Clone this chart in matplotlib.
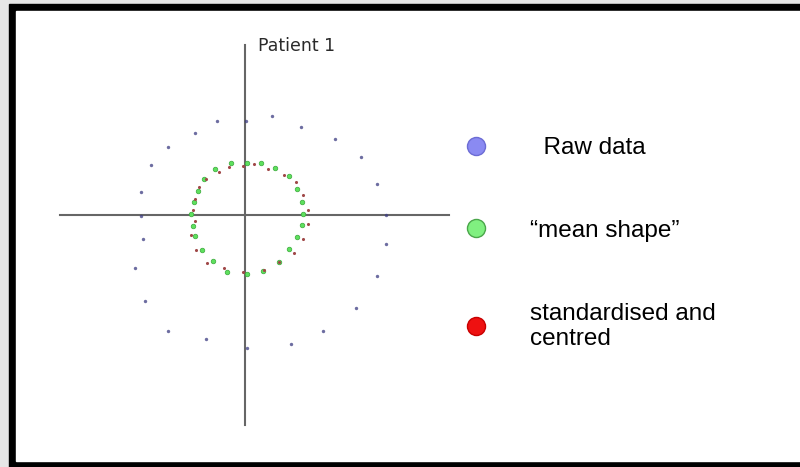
"""
Patient 1: raw landmark data, mean shape and standardised/centred shape.
Saves the figure as out.png.
"""

import matplotlib
matplotlib.use("Agg")
import matplotlib.pyplot as plt
from matplotlib.lines import Line2D
from matplotlib.patches import Rectangle

# --- data (arbitrary units, origin at the crossing of the axes) ---
raw_x = [0.1, 2.7, 5.6, 9.0, 11.6, 13.2, 14.1, 14.1, 13.2, 11.1, 7.8, 4.6,
         0.2, -3.9, -7.7, -10.0, -11.0, -10.2, -10.4, -10.4, -9.4, -7.7, -5.0, -2.8]
raw_y = [9.4, 9.9, 8.8, 7.6, 5.8, 3.1, 0.0, -2.9, -6.1, -9.3, -11.6, -12.9,
         -13.3, -12.4, -11.6, -8.6, -5.3, -2.4, -0.1, 2.3, 5.0, 6.8, 8.2, 9.4]

mean_x = [-1.4, 0.2, 1.6, 3.0, 4.4, 5.2, 5.7, 5.8, 5.7, 5.2, 4.4, 3.4,
          1.8, 0.2, -1.8, -3.2, -4.3, -5.0, -5.2, -5.4, -5.1, -4.7, -4.1, -3.0]
mean_y = [5.2, 5.2, 5.2, 4.7, 3.9, 2.6, 1.3, 0.1, -1.0, -2.2, -3.4, -4.7,
          -5.6, -5.9, -5.7, -4.6, -3.5, -2.1, -1.1, 0.1, 1.3, 2.4, 3.6, 4.6]

std_x = [-1.6, -0.2, 0.9, 2.3, 3.9, 5.1, 5.8, 6.3, 6.3, 5.8, 4.9, 3.4,
         1.9, -0.2, -2.1, -3.8, -4.9, -5.4, -5.0, -5.2, -5.0, -4.6, -3.9, -2.6]
std_y = [4.8, 4.9, 5.1, 4.6, 4.0, 3.3, 2.0, 0.5, -0.9, -2.4, -3.8, -4.7,
         -5.5, -5.7, -5.3, -4.8, -3.5, -2.0, -0.6, 0.5, 1.6, 2.8, 3.6, 4.3]

labels = ["  Raw data", "\u201cmean shape\u201d", "standardised and\ncentred"]


def main():
    fig = plt.figure(figsize=(8, 4.67), dpi=100, facecolor="#e6e6e6")

    # black frame with white panel, as in the slide (behind the axes)
    fig.patches.append(Rectangle((9 / 800, 0), 1, 463 / 467, color="black",
                                 transform=fig.transFigure, zorder=-2))
    fig.patches.append(Rectangle((16 / 800, 6 / 467), 1, 450 / 467, color="white",
                                 transform=fig.transFigure, zorder=-1))

    ax = fig.add_axes([0, 0, 1, 1])
    ax.set_xlim(-24.5, 55.5)
    ax.set_ylim(-25.2, 21.5)
    ax.axis("off")

    # the two axes through the origin
    ax.plot([-18.5, 20.4], [0, 0], color="#666666", lw=1.5, zorder=1)
    ax.plot([0, 0], [-21.0, 17.0], color="#666666", lw=1.5, zorder=1)

    ax.scatter(raw_x, raw_y, s=6, color="#3c3c82", alpha=0.75, lw=0, zorder=2)
    ax.scatter(mean_x, mean_y, s=11, facecolor="#5ee05e", edgecolor="#3aa83a",
               lw=0.5, zorder=3)
    ax.scatter(std_x, std_y, s=5, color="#a04848", lw=0, zorder=4)

    ax.text(1.3, 16.0, "Patient 1", fontsize=12.5, color="#2a2a2a",
            family="DejaVu Sans", va="bottom")

    handles = [
        Line2D([], [], ls="", marker="o", ms=13, mfc="#8a8af2", mec="#6c6cd4"),
        Line2D([], [], ls="", marker="o", ms=13, mfc="#80f080", mec="#4aa64a"),
        Line2D([], [], ls="", marker="o", ms=13, mfc="#ee1111", mec="#c80000"),
    ]
    fig.legend(handles, labels, loc="upper left",
               bbox_to_anchor=(466 / 800, 1 - 137 / 467),
               bbox_transform=fig.transFigure,
               frameon=False, borderpad=0, borderaxespad=0,
               handlelength=0.8, handletextpad=1.82, labelspacing=2.5,
               prop={"family": "Liberation Sans", "size": 17.5})

    fig.savefig("out.png", dpi=100, facecolor=fig.get_facecolor())
    plt.close(fig)


if __name__ == "__main__":
    main()
